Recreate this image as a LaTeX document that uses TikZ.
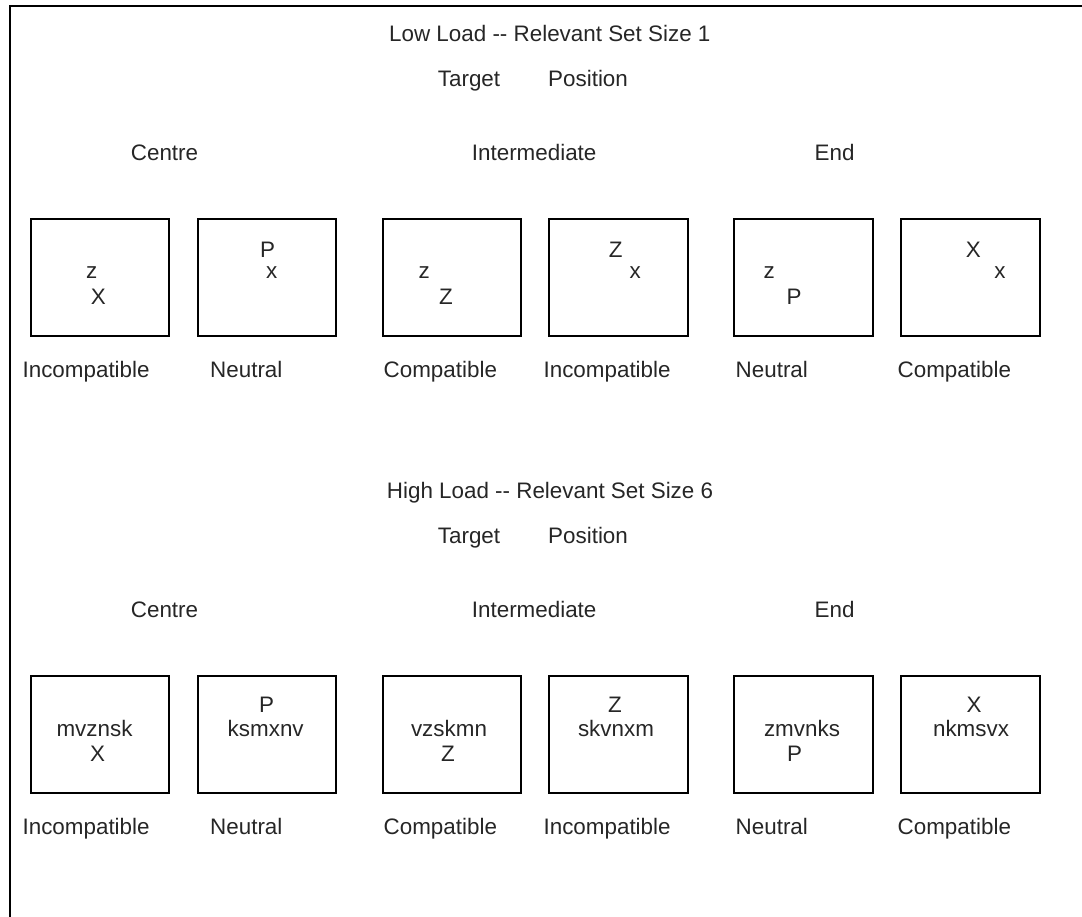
\documentclass[tikz,border=0pt]{standalone}
\usepackage{fontspec}
\setmainfont{Liberation Sans}
\definecolor{ink}{HTML}{262626}
\begin{document}
\begin{tikzpicture}[x=1pt,y=-1pt,
  box/.style={draw=black, line width=2.1pt, minimum width=138.5pt, minimum height=117pt, anchor=north west, inner sep=0pt},
  txt/.style={anchor=base, inner sep=0pt, text=ink, font=\fontsize{22.4}{26}\selectfont},
  txtw/.style={txt, anchor=base west},
  frame/.style={line width=2.2pt, draw=black}]
\useasboundingbox (0,0) rectangle (1082,917);
\coordinate (ftl) at (10.3,5.7);
\coordinate (ftr) at (1090,5.7);
\coordinate (fbl) at (10.3,925);
\draw[frame] (ftr) -- (ftl) -- (fbl);

% ---------- Low load ----------
\node[txtw] (h1) at (389,42) {Low Load -{}- Relevant Set Size 1};
\node[txtw] (tg1) at (437.7,86.6) {Target};
\node[txtw] (ps1) at (548,86.6) {Position};
\node[txtw] (c1) at (130.7,160.5) {Centre};
\node[txtw] (i1) at (471.7,160.5) {Intermediate};
\node[txtw] (e1) at (814.5,160.5) {End};

\node[box] (b1) at (29.7,217.7) {};
\node[box] (b2) at (196.7,217.7) {};
\node[box] (b3) at (381.7,217.7) {};
\node[box] (b4) at (548.3,217.7) {};
\node[box] (b5) at (733.3,217.7) {};
\node[box] (b6) at (900.3,217.7) {};

\node[txt] (b1a) at (91.7,278.5) {z};
\node[txt] (b1b) at (98.3,304.5) {X};
\node[txt] (b2a) at (267.7,258) {P};
\node[txt] (b2b) at (271.7,278.5) {x};
\node[txt] (b3a) at (424.3,278.5) {z};
\node[txt] (b3b) at (446,304.5) {Z};
\node[txt] (b4a) at (615.7,258) {Z};
\node[txt] (b4b) at (635.3,278.5) {x};
\node[txt] (b5a) at (769.3,278.5) {z};
\node[txt] (b5b) at (794,304.5) {P};
\node[txt] (b6a) at (973.3,258) {X};
\node[txt] (b6b) at (1000,278.5) {x};

\node[txtw] (l1) at (22.4,377.6) {Incompatible};
\node[txtw] (l2) at (210,377.6) {Neutral};
\node[txtw] (l3) at (383.5,377.6) {Compatible};
\node[txtw] (l4) at (543.4,377.6) {Incompatible};
\node[txtw] (l5) at (735.5,377.6) {Neutral};
\node[txtw] (l6) at (897.5,377.6) {Compatible};

% ---------- High load ----------
\node[txtw] (h2) at (386.7,498) {High Load -{}- Relevant Set Size 6};
\node[txtw] (tg2) at (437.7,543.6) {Target};
\node[txtw] (ps2) at (548,543.6) {Position};
\node[txtw] (c2) at (130.7,617) {Centre};
\node[txtw] (i2) at (471.7,617) {Intermediate};
\node[txtw] (e2) at (814.5,617) {End};

\node[box] (b7) at (29.7,674.7) {};
\node[box] (b8) at (196.7,674.7) {};
\node[box] (b9) at (381.7,674.7) {};
\node[box] (b10) at (548.3,674.7) {};
\node[box] (b11) at (733.3,674.7) {};
\node[box] (b12) at (900.3,674.7) {};

\node[txt] (b7a) at (94.5,736) {mvznsk};
\node[txt] (b7b) at (97.7,761.5) {X};
\node[txt] (b8a) at (266.7,712.5) {P};
\node[txt] (b8b) at (265.7,736) {ksmxnv};
\node[txt] (b9a) at (449,736) {vzskmn};
\node[txt] (b9b) at (448,761.5) {Z};
\node[txt] (b10a) at (615,712.5) {Z};
\node[txt] (b10b) at (616,736) {skvnxm};
\node[txt] (b11a) at (802,736) {zmvnks};
\node[txt] (b11b) at (794.5,761.5) {P};
\node[txt] (b12a) at (974,712.5) {X};
\node[txt] (b12b) at (971,736) {nkmsvx};

\node[txtw] (l7) at (22.4,834.2) {Incompatible};
\node[txtw] (l8) at (210,834.2) {Neutral};
\node[txtw] (l9) at (383.5,834.2) {Compatible};
\node[txtw] (l10) at (543.4,834.2) {Incompatible};
\node[txtw] (l11) at (735.5,834.2) {Neutral};
\node[txtw] (l12) at (897.5,834.2) {Compatible};
\end{tikzpicture}
\end{document}
